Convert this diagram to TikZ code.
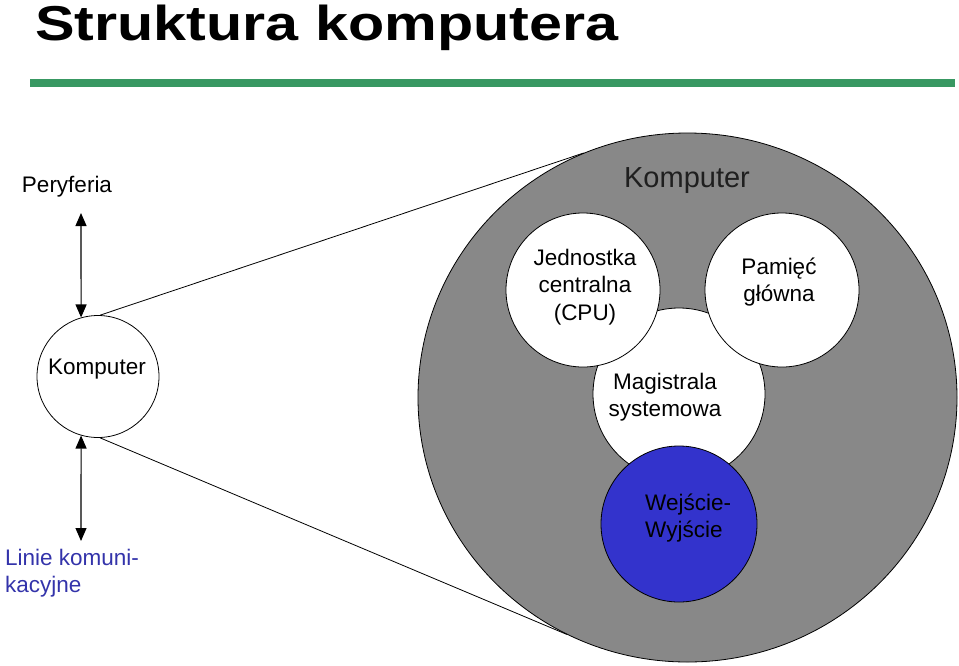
\documentclass[tikz,border=0pt]{standalone}
\usepackage{fontspec}
\setmainfont{Liberation Sans}
\usetikzlibrary{arrows.meta,shapes.geometric}
\definecolor{barGreen}{RGB}{56,152,98}
\definecolor{ioBlue}{RGB}{51,51,204}
\definecolor{linkBlue}{RGB}{51,51,170}
\definecolor{hatchGray}{RGB}{136,136,136}
\begin{document}
\begin{tikzpicture}[x=1pt,y=-1pt,
  circ/.style={circle,draw=black,line width=0.8pt,inner sep=0pt},
  lbl/.style={font=\fontsize{22.5}{27.5}\selectfont,inner sep=0pt},
  conn/.style={line width=0.8pt},
  dbl/.style={line width=1.1pt,{Triangle[length=13pt,width=11pt]}-{Triangle[length=13pt,width=11pt]}}]
\useasboundingbox (0,0) rectangle (959,665);
% title and bar
\node[anchor=base west,inner sep=0pt] (title) at (35,40)
  {\scalebox{1.21}[1]{\fontsize{49}{58}\selectfont\bfseries Struktura komputera}};
\fill[barGreen] (30,79) rectangle (955,87);
% big circle and inner parts
\node[ellipse,draw=black,line width=0.8pt,fill=hatchGray,inner sep=0pt,
  minimum width=539pt,minimum height=529pt] (big) at (687.5,397.5) {};
\node[circ,fill=white,minimum size=172pt] (bus) at (679,394) {};
\node[circ,fill=white,minimum size=154pt] (cpu) at (583,290) {};
\node[circ,fill=white,minimum size=154pt] (mem) at (782,290) {};
\node[circ,fill=ioBlue,minimum size=156pt] (io) at (679,524) {};
% small computer
\node[circ,minimum size=122pt] (komp) at (98,376.5) {};
% labels
\node[lbl,text=black!88,font=\fontsize{29}{34}\selectfont] (bigtxt) at (687,181) {Komputer};
\node[lbl,align=center] (cputxt) at (585,287) {Jednostka\\centralna\\(CPU)};
\node[lbl,align=center] (memtxt) at (779,282) {Pamięć\\główna};
\node[lbl,align=center] (bustxt) at (665,397) {Magistrala\\systemowa};
\node[lbl,align=left,anchor=west] (iotxt) at (645,518) {Wejście-\\Wyjście};
\node[lbl] (komptxt) at (97,369) {Komputer};
\node[lbl] (per) at (67,187) {Peryferia};
\node[lbl,align=left,anchor=west,text=linkBlue] (linie) at (5,573) {Linie komuni-\\kacyjne};
% connectors
\coordinate (perEnd) at (81,213);
\coordinate (linEnd) at (81,541);
\draw[dbl] (perEnd) -- (komp.106);
\draw[dbl] (komp.254) -- (linEnd);
\draw[conn] (komp.88) -- (big.113.9);
\draw[conn] (komp.272) -- (big.243.9);
\end{tikzpicture}
\end{document}
